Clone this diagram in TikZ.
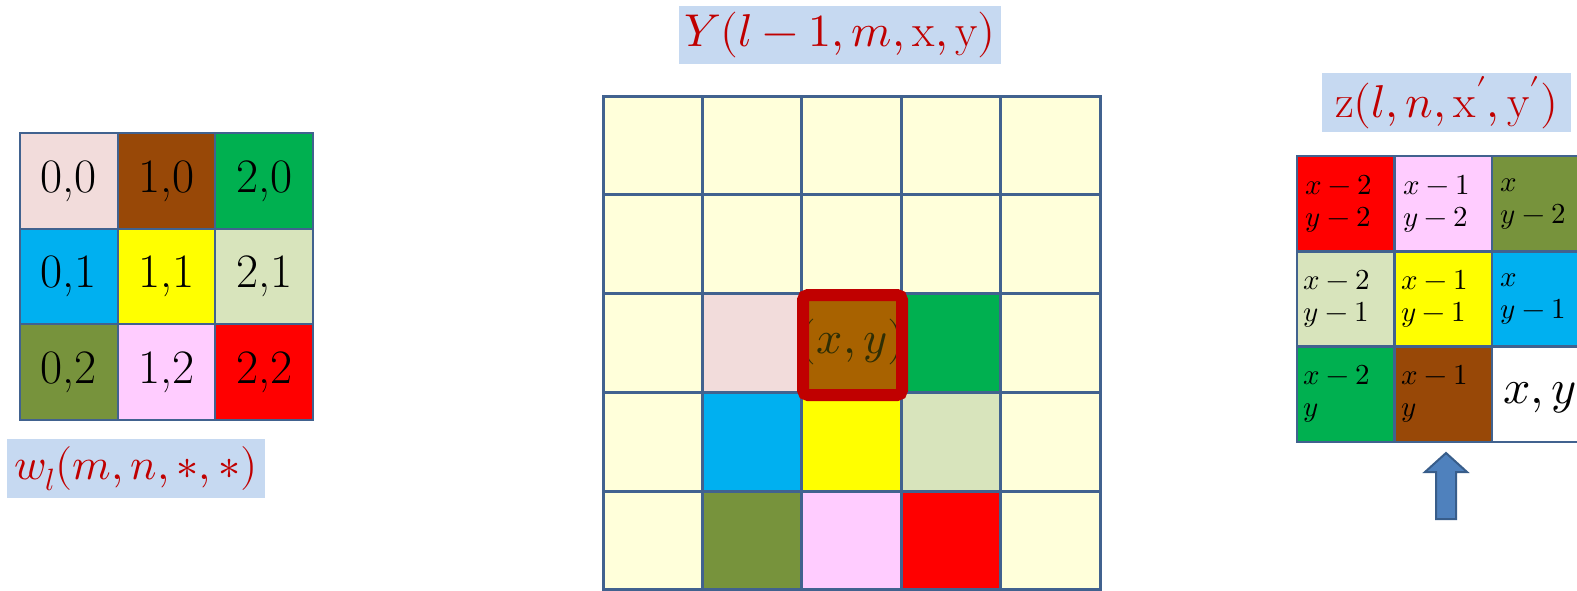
\documentclass[tikz,border=0pt]{standalone}
\usepackage{unicode-math}
\definecolor{gridblue}{HTML}{41628F}
\definecolor{ltyellow}{HTML}{FFFFDA}
\definecolor{lblue}{HTML}{C6D9F1}
\definecolor{darkred}{HTML}{C00000}
\definecolor{cpinkl}{HTML}{F2DCDB}
\definecolor{cbrown}{HTML}{984807}
\definecolor{cgreen}{HTML}{00B050}
\definecolor{ccyan}{HTML}{00B0F0}
\definecolor{cyellow}{HTML}{FFFF00}
\definecolor{csage}{HTML}{D8E4BC}
\definecolor{colive}{HTML}{77933C}
\definecolor{cpink}{HTML}{FFCCFF}
\definecolor{cred}{HTML}{FF0000}
\definecolor{hlbrown}{HTML}{A86200}
\definecolor{hltext}{HTML}{2E2E05}
\definecolor{arrowblue}{HTML}{4F81BD}
\definecolor{arrowdark}{HTML}{385D8A}
\begin{document}
\begin{tikzpicture}[x=1pt,y=-1pt,
 gcell/.style={draw=gridblue, line width=2pt, inner sep=0pt, minimum width=97.7pt, minimum height=95.7pt, font=\fontsize{48}{48}\selectfont},
 mcell/.style={draw=gridblue, line width=3pt, fill=ltyellow, inner sep=0pt, minimum width=99.4pt, minimum height=98.75pt},
 rcell/.style={draw=gridblue, line width=2.5pt, inner sep=0pt, minimum width=97.5pt, minimum height=95.3pt},
 rtext/.style={anchor=west, inner sep=0pt, align=left, font=\fontsize{29}{32}\selectfont},
 lbl/.style={fill=lblue, text=darkred, inner sep=0pt, font=\fontsize{46}{46}\selectfont}]
\clip (0,0) rectangle (1577,591);
\fill[white] (0,0) rectangle (1577,591);

% left kernel grid
\node[gcell, fill=cpinkl] (L00) at (68.85,180.85) {0,0};
\node[gcell, fill=cbrown] (L10) at (166.55,180.85) {1,0};
\node[gcell, fill=cgreen] (L20) at (264.25,180.85) {2,0};
\node[gcell, fill=ccyan] (L01) at (68.85,276.55) {0,1};
\node[gcell, fill=cyellow] (L11) at (166.55,276.55) {1,1};
\node[gcell, fill=csage] (L21) at (264.25,276.55) {2,1};
\node[gcell, fill=colive] (L02) at (68.85,372.25) {0,2};
\node[gcell, fill=cpink] (L12) at (166.55,372.25) {1,2};
\node[gcell, fill=cred] (L22) at (264.25,372.25) {2,2};
\node[lbl, minimum width=258pt, minimum height=59pt, font=\fontsize{44}{44}\selectfont] (wlbl) at (136,468.5) {$w_l(m,n,\ast,\ast)$};

% middle input grid
\foreach \c in {0,...,4}
  \foreach \r in {0,...,4}
    \node[mcell] (M\c\r) at ({652.7+99.4*\c},{145.4+98.75*\r}) {};
\node[mcell, fill=cpinkl] (C12) at (M12) {};
\node[mcell, fill=hlbrown] (C22) at (M22) {};
\node[mcell, fill=cgreen] (C32) at (M32) {};
\node[mcell, fill=ccyan] (C13) at (M13) {};
\node[mcell, fill=cyellow] (C23) at (M23) {};
\node[mcell, fill=csage] (C33) at (M33) {};
\node[mcell, fill=colive] (C14) at (M14) {};
\node[mcell, fill=cpink] (C24) at (M24) {};
\node[mcell, fill=cred] (C34) at (M34) {};
\node[inner sep=0pt, text=hltext, font=\fontsize{46}{46}\selectfont] (xy) at (852,342) {$(x,y)$};
\node[draw=darkred, line width=12pt, rounded corners=5pt, inner sep=0pt, minimum width=99pt, minimum height=100pt] (HL) at (852.5,345) {};
\node[lbl, minimum width=322pt, minimum height=58pt] (Ylbl) at (840,35) {$Y(l-1,m,\mathrm{x},\mathrm{y})$};

% right output grid
\node[rcell, fill=cred] (R00) at (1345.75,203.65) {};
\node[rcell, fill=cpink] (R10) at (1443.25,203.65) {};
\node[rcell, fill=colive] (R20) at (1540.75,203.65) {};
\node[rcell, fill=csage] (R01) at (1345.75,299) {};
\node[rcell, fill=cyellow] (R11) at (1443.25,299) {};
\node[rcell, fill=ccyan] (R21) at (1540.75,299) {};
\node[rcell, fill=cgreen] (R02) at (1345.75,394.3) {};
\node[rcell, fill=cbrown] (R12) at (1443.25,394.3) {};
\node[rcell, fill=white] (R22) at (1540.75,394.3) {};
\node[rtext] (T00) at ([xshift=10pt]R00.west) {$x-2$\\$y-2$};
\node[rtext] (T10) at ([xshift=10pt]R10.west) {$x-1$\\$y-2$};
\node[rtext] (T20) at ([xshift=10pt]R20.west) {$x$\\$y-2$};
\node[rtext] (T01) at ([xshift=8pt]R01.west) {$x-2$\\$y-1$};
\node[rtext] (T11) at ([xshift=8pt]R11.west) {$x-1$\\$y-1$};
\node[rtext] (T21) at ([xshift=10pt]R21.west) {$x$\\$y-1$};
\node[rtext] (T02) at ([xshift=8pt]R02.west) {$x-2$\\$y$};
\node[rtext] (T12) at ([xshift=8pt]R12.west) {$x-1$\\$y$};
\node[anchor=base west, inner sep=0pt, font=\fontsize{48}{48}\selectfont] (T22) at (1503,403) {$x,y$};
\node[lbl, minimum width=249pt, minimum height=59pt] (zlbl) at (1446.5,102.5) {$\mathrm{z}(l,n,\mathrm{x}',\mathrm{y}')$};

% block arrow
\filldraw[fill=arrowblue, draw=arrowdark, line width=2pt, line join=miter]
  (1446,453) -- (1467,472) -- (1456,472) -- (1456,519) -- (1436,519) -- (1436,472) -- (1425,472) -- cycle;
\end{tikzpicture}
\end{document}
